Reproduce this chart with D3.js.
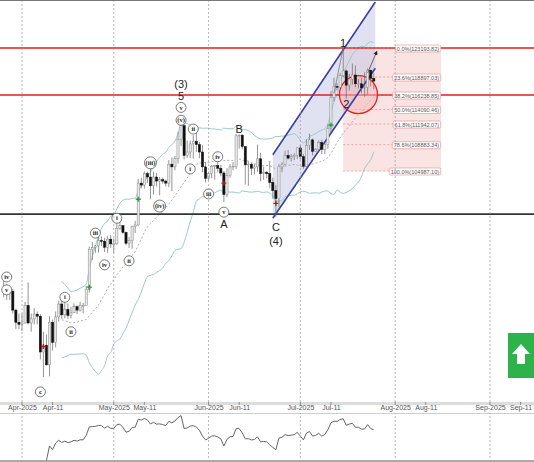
<!DOCTYPE html>
<html lang="en">
<head>
<meta charset="UTF-8">
<title>BTC Elliott wave chart</title>
<script src="https://d3js.org/d3.v7.min.js"></script>
<style>
  body { margin: 0; background: #fff; }
  svg { display: block; font-family: "Liberation Sans", Arial, sans-serif; }
</style>
</head>
<body>
<svg width="534" height="462"></svg>
<script>
// daily candles, first one dated 2025-03-26 (values in thousands)
const startDate = new Date(2025, 2, 26);
const closes = [87.4,86.9,87.2,84.4,82.6,82.3,82.5,
  85.1,82.5,83.1,83.8,83.5,78.2,79.2,76.3,82.6,79.6,83.4,85.3,83.7,84.5,83.6,84.0,84.9,84.4,85.1,85.1,87.5,93.4,93.7,93.9,94.7,94.6,93.7,94.9,94.2,94.2,
  96.5,96.9,95.9,94.3,94.7,96.8,97.0,103.2,102.9,104.6,104.1,102.8,104.1,103.5,103.7,103.5,103.2,106.0,105.6,106.8,109.7,111.7,107.3,107.8,109.0,109.4,108.9,107.8,105.6,103.9,104.6,
  105.7,105.8,105.4,104.7,101.5,104.3,105.6,105.7,110.2,110.3,108.6,105.9,106.0,105.4,105.6,106.8,104.6,104.8,104.6,103.3,102.1,100.9,105.6,106.0,107.3,106.9,107.1,107.3,108.4,107.1,
  105.7,108.8,109.6,107.9,108.2,109.2,108.2,108.9,111.3,115.9,117.5,117.4,119.1,119.8,117.7,118.6,119.2,117.9,117.9,117.3,117.4,119.9,118.7,118.3];
const highs = [88.8,88.3,87.8,87.5,84.6,83.9,83.9,
  85.6,88.5,83.9,84.7,84.2,83.8,81.2,80.8,83.5,83.0,84.2,85.8,86.0,85.8,85.4,84.9,85.4,85.1,85.6,85.5,88.0,93.8,94.5,94.0,95.7,95.3,95.1,95.4,95.5,95.0,
  97.4,97.9,97.0,96.0,95.2,96.9,97.6,103.8,104.0,104.9,104.9,105.7,104.9,104.7,104.1,104.0,103.7,106.6,107.0,107.2,110.8,111.9,111.9,109.5,109.5,110.3,110.6,109.3,108.8,106.3,104.9,
  105.9,105.9,106.8,105.9,105.0,105.4,106.0,106.3,110.5,110.4,110.4,108.6,106.4,106.2,106.0,108.9,107.7,105.6,105.0,106.5,104.0,102.9,106.0,106.3,108.0,108.1,107.5,107.6,108.5,108.8,
  107.5,109.7,110.5,109.8,108.4,109.5,109.6,109.2,111.9,116.8,118.8,118.0,119.5,123.2,120.0,119.4,120.9,120.6,118.6,118.8,119.6,120.2,120.0,119.5];
const lows = [86.3,85.9,85.9,83.9,81.6,81.6,81.3,
  82.4,82.3,81.2,82.3,82.3,77.1,74.5,76.2,74.6,78.4,78.9,82.7,83.1,83.2,83.1,83.2,84.0,83.8,84.2,83.9,85.1,87.0,91.8,92.9,92.9,93.9,93.0,92.9,93.6,92.9,
  94.1,96.3,95.7,94.0,93.6,93.5,95.8,96.9,102.4,102.4,103.2,100.8,101.5,102.7,101.4,103.1,102.7,102.6,102.0,105.1,106.1,108.7,106.7,106.9,106.9,106.8,107.8,106.9,104.8,103.3,103.6,
  103.9,103.7,104.8,104.2,100.4,101.1,104.0,105.1,105.3,108.3,108.2,103.0,102.8,104.4,104.5,104.9,103.5,103.7,103.9,102.5,100.9,98.2,99.6,104.8,105.8,106.7,106.4,106.6,106.8,106.7,
  105.3,105.5,108.1,107.3,107.8,107.8,107.5,107.5,108.3,110.6,115.3,116.9,117.4,118.9,115.7,116.9,117.8,117.4,117.2,116.5,116.0,116.3,117.5,117.1];

const redLevels = [123193.82, 116236.8];
const supportLevel = 98600;
const fibTop = 123193.82, fibLow = 104987.1;
const fibRatios = [0, 0.236, 0.382, 0.5, 0.618, 0.786, 1];
const fibStart = new Date(2025, 6, 15), fibEnd = new Date(2025, 7, 16);
// channel: [date, price] at both ends
const chanUpper = [[new Date(2025, 5, 22), 107400], [new Date(2025, 6, 25, 12), 130000]];
const chanLower = [[new Date(2025, 5, 22), 98000], [new Date(2025, 6, 25, 12), 120200]];
const circle2 = [new Date(2025, 6, 20), 116300];
const wavePath = [[new Date(2025, 6, 12), 116500], [new Date(2025, 6, 15), 123193.82]];
const arrowPath = [[new Date(2025, 6, 23), 119500], [new Date(2025, 6, 26), 122700]];

const tickDates = ["2025-04-01","2025-04-11","2025-05-01","2025-05-11","2025-06-01","2025-06-11",
  "2025-07-01","2025-07-11","2025-08-01","2025-08-11","2025-09-01","2025-09-11"];
const tickLabels = ["Apr-2025","Apr-11","May-2025","May-11","Jun-2025","Jun-11",
  "Jul-2025","Jul-11","Aug-2025","Aug-11","Sep-2025","Sep-11"];

// wave labels: text, date, price, circled?
const waveLabels = [
  ["(3)", "2025-05-23", 117900, false, 11], ["5", "2025-05-23", 116100, false, 11],
  ["v", "2025-05-23", 114400, true], ["(v)", "2025-05-23", 112500, true],
  ["ii", "2025-05-27", 111200, true], ["B", "2025-06-11", 111200, false, 11],
  ["(iii)", "2025-05-13", 106200, true], ["i", "2025-05-26", 105300, true],
  ["iv", "2025-06-04", 107100, true], ["iii", "2025-06-01", 101600, true],
  ["v", "2025-06-06", 98900, true], ["A", "2025-06-06", 97200, false, 11],
  ["C", "2025-06-23", 96700, false, 11], ["(4)", "2025-06-23", 94600, false, 11],
  ["(iv)", "2025-05-16", 99800, true], ["i", "2025-05-02", 98000, true],
  ["ii", "2025-05-06", 91700, true], ["iii", "2025-04-25", 95800, true],
  ["iv", "2025-04-28", 91100, true], ["i", "2025-04-15", 86300, true],
  ["ii", "2025-04-17", 81200, true], ["c", "2025-04-07", 72300, true],
  ["iv", "2025-03-27", 89300, true], ["v", "2025-03-27", 87400, true],
  ["1", "2025-07-15", 123900, false, 11], ["2", "2025-07-16", 114900, false, 11]
];
const markers = [["2025-04-23", 87800, "#2a9d3a"], ["2025-05-09", 100800, "#2a9d3a"], ["2025-07-11", 111800, "#2a9d3a"],
  ["2025-04-08", 79000, "#b02020"], ["2025-06-06", 103200, "#b02020"], ["2025-06-23", 100200, "#b02020"]];

const W = 534, mainBottom = 402, rsiTop = 415, rsiBottom = 460;
const svg = d3.select("svg");
const x = d3.scaleTime().domain([new Date(2025, 3, 1), new Date(2025, 8, 1)]).range([22, 490]);
const y = d3.scaleLinear().domain([130300, 70800]).range([0, mainBottom]);
const parse = d3.timeParse("%Y-%m-%d");

const candles = closes.map((c, i) => ({
  date: d3.timeDay.offset(startDate, i),
  o: (i ? closes[i - 1] : c) * 1000, c: c * 1000, h: highs[i] * 1000, l: lows[i] * 1000
}));

svg.append("clipPath").attr("id", "mainclip").append("rect").attr("width", W).attr("height", mainBottom);
const main = svg.append("g").attr("clip-path", "url(#mainclip)");

// month grid lines
tickDates.filter((d, i) => i % 2 === 0).forEach(d => {
  svg.append("line").attr("x1", x(parse(d))).attr("x2", x(parse(d)))
    .attr("y1", 0).attr("y2", rsiBottom).attr("stroke", "#999").attr("stroke-dasharray", "2,2").attr("stroke-width", 0.7);
});

// fib box
const fx0 = x(fibStart), fx1 = x(fibEnd);
main.append("rect").attr("x", fx0).attr("y", y(fibTop)).attr("width", fx1 - fx0)
  .attr("height", y(fibLow) - y(fibTop)).attr("fill", "#f4c8c8").attr("opacity", 0.5);

// channel
const chanPoly = [chanUpper[0], chanUpper[1], chanLower[1], chanLower[0]].map(p => [x(p[0]), y(p[1])]);
main.append("polygon").attr("points", chanPoly.join(" ")).attr("fill", "#c9cbe6").attr("opacity", 0.55);

// bollinger bands
const N = 20;
const bb = [];
for (let i = N - 1; i < candles.length; i++) {
  const win = candles.slice(i - N + 1, i + 1).map(d => d.c);
  const m = d3.mean(win), s = d3.deviation(win) * Math.sqrt((N - 1) / N);
  bb.push({ date: candles[i].date, m, u: m + 2 * s, d: m - 2 * s });
}
const ln = key => d3.line().x(d => x(d.date)).y(d => y(d[key])).curve(d3.curveMonotoneX);
main.append("path").datum(bb).attr("d", ln("u")).attr("fill", "none").attr("stroke", "#9cc9cc").attr("stroke-width", 1);
main.append("path").datum(bb).attr("d", ln("d")).attr("fill", "none").attr("stroke", "#9cc9cc").attr("stroke-width", 1);
main.append("path").datum(bb).attr("d", ln("m")).attr("fill", "none").attr("stroke", "#999").attr("stroke-width", 0.8).attr("stroke-dasharray", "2,2");

// horizontal levels
redLevels.forEach(p => main.append("line").attr("x1", 0).attr("x2", W).attr("y1", y(p)).attr("y2", y(p))
  .attr("stroke", "#e31e1e").attr("stroke-width", 1.5));
main.append("line").attr("x1", 0).attr("x2", W).attr("y1", y(supportLevel)).attr("y2", y(supportLevel))
  .attr("stroke", "#333").attr("stroke-width", 1.8);

// fib levels
fibRatios.forEach(r => {
  const p = fibTop - r * (fibTop - fibLow);
  main.append("line").attr("x1", fx0).attr("x2", fx1).attr("y1", y(p)).attr("y2", y(p))
    .attr("stroke", "#e58a8a").attr("stroke-width", 0.7).attr("stroke-dasharray", "2,2");
  const t = main.append("text").attr("x", fx1 - 2).attr("y", y(p) + 2.5).attr("text-anchor", "end")
    .attr("font-size", 5.5).attr("fill", "#555")
    .text(`${(r * 100).toFixed(1)}%(${p.toFixed(2)})`);
  const bbx = t.node().getBBox();
  main.insert("rect", () => t.node()).attr("x", bbx.x - 1.5).attr("y", bbx.y - 0.5).attr("width", bbx.width + 3)
    .attr("height", bbx.height + 1).attr("fill", "#fff").attr("stroke", "#e58a8a").attr("stroke-width", 0.6).attr("rx", 1.5);
});

// red circle around wave 2
main.append("circle").attr("cx", x(circle2[0])).attr("cy", y(circle2[1])).attr("r", 19)
  .attr("fill", "#f4b8b8").attr("fill-opacity", 0.5).attr("stroke", "#e31e1e").attr("stroke-width", 1.3);

// channel lines
[chanUpper, chanLower].forEach(c => main.append("line")
  .attr("x1", x(c[0][0])).attr("y1", y(c[0][1])).attr("x2", x(c[1][0])).attr("y2", y(c[1][1]))
  .attr("stroke", "#3b3fa0").attr("stroke-width", 1.6));

// candles
const cw = 2.2;
const cg = main.append("g");
cg.selectAll("line").data(candles).join("line")
  .attr("x1", d => x(d.date)).attr("x2", d => x(d.date))
  .attr("y1", d => y(d.h)).attr("y2", d => y(d.l)).attr("stroke", "#666").attr("stroke-width", 0.7);
cg.selectAll("rect").data(candles).join("rect")
  .attr("x", d => x(d.date) - cw / 2).attr("width", cw)
  .attr("y", d => y(Math.max(d.o, d.c))).attr("height", d => Math.max(0.8, Math.abs(y(d.o) - y(d.c))))
  .attr("fill", d => d.c >= d.o ? "#e8e8e8" : "#111").attr("stroke", d => d.c >= d.o ? "#888" : "#111").attr("stroke-width", 0.5);

// markers
markers.forEach(m => {
  const cx = x(parse(m[0])), cy = y(m[1]);
  main.append("path").attr("d", `M${cx - 2.5},${cy}H${cx + 2.5}M${cx},${cy - 2.5}V${cy + 2.5}`)
    .attr("stroke", m[2]).attr("stroke-width", 1.4);
});

// wave path and arrow
svg.append("defs").append("marker").attr("id", "ah").attr("viewBox", "0 0 6 6").attr("refX", 5).attr("refY", 3)
  .attr("markerWidth", 5).attr("markerHeight", 5).attr("orient", "auto")
  .append("path").attr("d", "M0,0L6,3L0,6Z").attr("fill", "#222");
main.append("path").attr("d", d3.line()(wavePath.map(p => [x(p[0]), y(p[1])])))
  .attr("stroke", "#777").attr("fill", "none").attr("stroke-width", 0.8);
main.append("path").attr("d", d3.line()(arrowPath.map(p => [x(p[0]), y(p[1])])))
  .attr("stroke", "#555").attr("fill", "none").attr("stroke-width", 0.9).attr("marker-end", "url(#ah)");

// wave labels
waveLabels.forEach(([t, d, p, circ, fs]) => {
  const cx = x(parse(d)), cy = y(p);
  if (circ) {
    main.append("circle").attr("cx", cx).attr("cy", cy).attr("r", t.length > 3 ? 6 : 5)
      .attr("fill", "#fff").attr("stroke", "#444").attr("stroke-width", 0.7);
    main.append("text").attr("x", cx).attr("y", cy + 2.2).attr("text-anchor", "middle")
      .attr("font-family", "Liberation Serif, serif").attr("font-weight", "bold").attr("font-size", 6.5).attr("fill", "#222").text(t);
  } else {
    main.append("text").attr("x", cx).attr("y", cy + 4).attr("text-anchor", "middle")
      .attr("font-size", fs).attr("fill", "#222").text(t);
  }
});

// green up-arrow badge
const bx = 508, by = 333;
svg.append("rect").attr("x", bx).attr("y", by).attr("width", 30).attr("height", 45).attr("fill", "#2eb34b");
svg.append("path").attr("d", `M${bx + 13},${by + 11}l9,10h-5v10h-8v-10h-5z`).attr("fill", "#fff");

// time axis strip
svg.append("rect").attr("x", 0).attr("y", mainBottom).attr("width", W).attr("height", 3).attr("fill", "#ddd");
svg.append("line").attr("x1", 0).attr("x2", W).attr("y1", 413).attr("y2", 413).attr("stroke", "#888").attr("stroke-width", 0.8);
svg.append("rect").attr("x", 0).attr("y", 405).attr("width", W).attr("height", 8).attr("fill", "#fff");
const xAxis = d3.axisBottom(x).tickValues(tickDates.map(parse)).tickSize(0)
  .tickFormat((d, i) => tickLabels[i]);
const ax = svg.append("g").attr("transform", `translate(0,${mainBottom + 1})`).call(xAxis);
ax.select(".domain").remove();
ax.selectAll("text").attr("font-size", 7).attr("fill", "#555").attr("dy", "0.55em").attr("y", 3);
tickDates.forEach(d => svg.append("line").attr("x1", x(parse(d))).attr("x2", x(parse(d)))
  .attr("y1", 402).attr("y2", 405).attr("stroke", "#666").attr("stroke-width", 0.7));

// RSI 14
const P = 14, rsi = [];
let ag = 0, al = 0;
for (let i = 1; i < candles.length; i++) {
  const ch = candles[i].c - candles[i - 1].c;
  const g = Math.max(ch, 0), l = Math.max(-ch, 0);
  if (i <= P) { ag += g / P; al += l / P; }
  else { ag = (ag * (P - 1) + g) / P; al = (al * (P - 1) + l) / P; }
  if (i >= P) rsi.push({ date: candles[i].date, v: 100 - 100 / (1 + ag / al) });
}
const yr = d3.scaleLinear().domain([30, 78]).range([rsiBottom - 4, rsiTop + 2]);
svg.append("path").datum(rsi).attr("d", d3.line().x(d => x(d.date)).y(d => yr(d.v)))
  .attr("fill", "none").attr("stroke", "#666").attr("stroke-width", 1);
svg.append("line").attr("x1", 0).attr("x2", W).attr("y1", 461).attr("y2", 461).attr("stroke", "#555");
svg.append("line").attr("x1", 0).attr("x2", W).attr("y1", 0.5).attr("y2", 0.5).attr("stroke", "#777");
</script>
</body>
</html>
